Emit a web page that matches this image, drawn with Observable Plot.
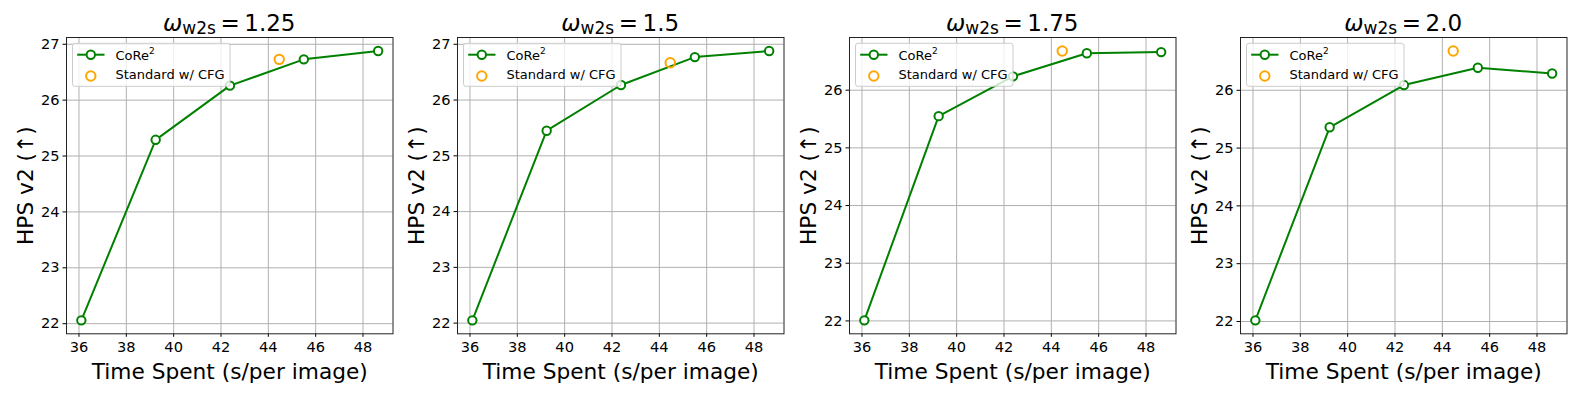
<!DOCTYPE html>
<html><head><meta charset="utf-8">
<script src="https://cdn.jsdelivr.net/npm/d3@7"></script>
<script src="https://cdn.jsdelivr.net/npm/@observablehq/plot@0.6"></script>
<style>
body{margin:0;background:#fff;}
#wrap{position:relative;width:1578px;height:395px;font-family:"DejaVu Sans";background:#fff;overflow:hidden;}
.panel{position:absolute;top:0;}
</style>
</head><body><div id="wrap"></div>
<script>
// ---- data ----
const times = [36.1, 39.24, 42.38, 45.5, 48.64];
const cfgTime = 44.46;
const omegaLabels = ["1.25", "1.5", "1.75", "2.0"];
const core2Panel1 = [22.06, 25.29, 26.26, 26.73, 26.88];
const core2Panel2 = [22.05, 25.45, 26.27, 26.77, 26.88];
const core2Panel3 = [22.01, 25.55, 26.24, 26.64, 26.66];
const core2Panel4 = [22.02, 25.36, 26.09, 26.39, 26.29];
const cfgHps = [26.73, 26.67, 26.68, 26.68];
const xTicks = [36, 38, 40, 42, 44, 46, 48];
const yTicks = [22, 23, 24, 25, 26, 27];
const seriesNames = ["CoRe", "Standard w/ CFG"];
const xLabel = "Time Spent (s/per image)";
const yLabel = "HPS v2 (\u2191)";

const core2All = [core2Panel1, core2Panel2, core2Panel3, core2Panel4];
const GREEN = "#008000", ORANGE = "#FFA500";
const ML = 58, MR = 6.5, MT = 37, MB = 61.7, W = 391, H = 395;
const frameW = W - ML - MR;

function padDomain(vals) {
  const lo = d3.min(vals), hi = d3.max(vals), s = hi - lo;
  return [lo - 0.05 * s, hi + 0.05 * s];
}

const wrap = document.getElementById("wrap");
omegaLabels.forEach((om, i) => {
  const core = times.map((t, j) => ({t, v: core2All[i][j]}));
  const cfg = [{t: cfgTime, v: cfgHps[i]}];
  const xd = padDomain(times.concat([cfgTime]));
  const yd = padDomain(core2All[i].concat([cfgHps[i]]));
  const yt = yTicks.filter(v => v >= yd[0] && v <= yd[1]);
  const svg = Plot.plot({
    width: W, height: H,
    marginLeft: ML, marginRight: MR, marginTop: MT, marginBottom: MB,
    style: {fontFamily: "DejaVu Sans", fontSize: "14.6px", background: "transparent", color: "#000", overflow: "visible"},
    x: {domain: xd, ticks: xTicks, tickSize: 3.5, tickPadding: 4, label: null, tickFormat: d => String(d)},
    y: {domain: yd, ticks: yt, tickSize: 3.5, tickPadding: 3.5, label: null, tickFormat: d => String(d)},
    marks: [
      Plot.ruleX(xTicks, {stroke: "#b0b0b0", strokeWidth: 1}),
      Plot.ruleY(yt, {stroke: "#b0b0b0", strokeWidth: 1}),
      Plot.line(core, {x: "t", y: "v", stroke: GREEN, strokeWidth: 2}),
      Plot.dot(core, {x: "t", y: "v", r: 4.2, stroke: GREEN, strokeWidth: 2, fill: "white"}),
      Plot.dot(cfg, {x: "t", y: "v", r: 4.7, stroke: ORANGE, strokeWidth: 2, fill: "none"}),
      Plot.frame({stroke: "#222", strokeWidth: 1}),
      Plot.text([xLabel], {frameAnchor: "bottom", lineAnchor: "bottom", dy: 44.7, fontSize: 21.7, fill: "#000"}),
      Plot.text([yLabel], {frameAnchor: "left", rotate: -90, textAnchor: "middle", lineAnchor: "bottom", dx: -33.8, fontSize: 21.7, fill: "#000"})
    ]
  });
  const s = d3.select(svg);
  // title
  const title = s.append("text")
    .attr("x", ML + frameW / 2).attr("y", 30.7)
    .attr("text-anchor", "middle")
    .attr("font-family", "DejaVu Sans").attr("font-size", 23).attr("fill", "#000");
  title.append("tspan").attr("font-style", "italic").text("\u03c9");
  title.append("tspan").attr("font-size", 17).attr("dy", 3.5).text("w2s");
  title.append("tspan").attr("dy", -3.5).text("\u2009=\u2009" + om);
  // legend
  const lg = s.append("g").attr("transform", `translate(${ML + 6.5},${43.3})`)
    .attr("font-family", "DejaVu Sans").attr("font-size", 13).attr("text-anchor", "start");
  lg.append("rect").attr("width", 157.5).attr("height", 43).attr("rx", 2.5)
    .attr("fill", "white").attr("fill-opacity", 0.8).attr("stroke", "#cccccc").attr("stroke-width", 1);
  lg.append("line").attr("x1", 4.7).attr("x2", 32).attr("y1", 11.4).attr("y2", 11.4)
    .attr("stroke", GREEN).attr("stroke-width", 2);
  lg.append("circle").attr("cx", 18.3).attr("cy", 11.4).attr("r", 4.2)
    .attr("stroke", GREEN).attr("stroke-width", 2).attr("fill", "white");
  const t1 = lg.append("text").attr("x", 43).attr("y", 16.7).attr("fill", "#000").attr("text-anchor", "start");
  t1.append("tspan").text(seriesNames[0]);
  t1.append("tspan").attr("font-size", 9).attr("dy", -5.5).text("2");
  lg.append("circle").attr("cx", 18.3).attr("cy", 32.7).attr("r", 4.7)
    .attr("stroke", ORANGE).attr("stroke-width", 2).attr("fill", "none");
  lg.append("text").attr("x", 43).attr("y", 36.2).attr("fill", "#000").attr("text-anchor", "start").text(seriesNames[1]);

  const div = document.createElement("div");
  div.className = "panel";
  div.style.left = (65.5 + i * 391.5 - ML) + "px";
  div.appendChild(svg);
  wrap.appendChild(div);
});
</script>
</body></html>
